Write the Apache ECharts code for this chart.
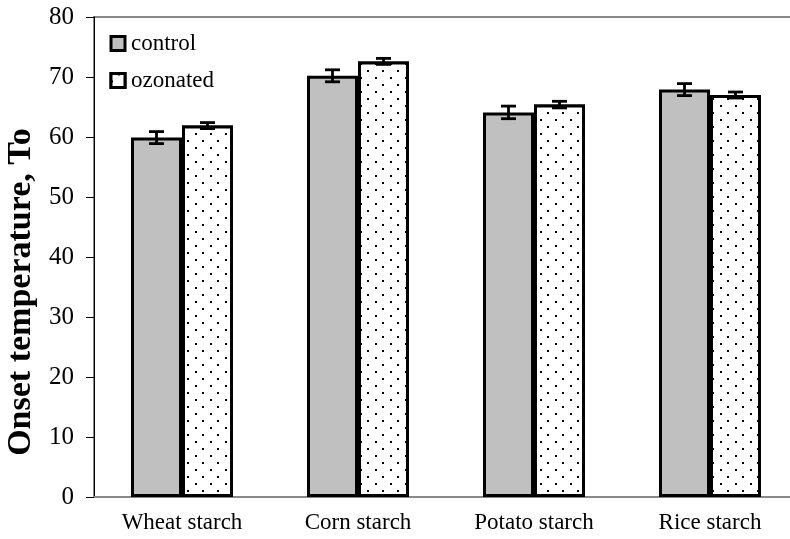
<!DOCTYPE html>
<html>
<head>
<meta charset="utf-8">
<script src="https://cdn.jsdelivr.net/npm/echarts@6/dist/echarts.min.js"></script>
<style>html,body{margin:0;padding:0;background:#fff;}#c{width:790px;height:539px;}</style>
</head>
<body>
<div id="c"></div>
<script>
const categories = ['Wheat starch', 'Corn starch', 'Potato starch', 'Rice starch'];
const seriesNames = ['control', 'ozonated'];
const controlValues = [59.9, 70.2, 64.1, 67.9];
const controlErrors = [1.0, 1.0, 1.05, 1.0];
const ozonatedValues = [61.9, 72.6, 65.4, 67.0];
const ozonatedErrors = [0.5, 0.5, 0.55, 0.5];
const yTicks = [0, 10, 20, 30, 40, 50, 60, 70, 80];
const yAxisTitle = 'Onset temperature, To';

const FONT = 'Liberation Serif';
const BAR_W = 51;

function errorData(values, errors) {
  return values.map((v, i) => [i, v - errors[i], v + errors[i]]);
}

function errorSeries(values, errors, side) {
  return {
    type: 'custom',
    z: 10,
    silent: true,
    data: errorData(values, errors),
    renderItem: function (params, api) {
      const idx = api.value(0);
      const lo = api.coord([idx, api.value(1)]);
      const hi = api.coord([idx, api.value(2)]);
      const x = lo[0] + side * BAR_W / 2;
      const cap = 7.5;
      const st = { stroke: '#000', lineWidth: 2.8 };
      return {
        type: 'group',
        children: [
          { type: 'line', shape: { x1: x, y1: lo[1], x2: x, y2: hi[1] }, style: st },
          { type: 'line', shape: { x1: x - cap, y1: lo[1], x2: x + cap, y2: lo[1] }, style: st },
          { type: 'line', shape: { x1: x - cap, y1: hi[1], x2: x + cap, y2: hi[1] }, style: st }
        ]
      };
    }
  };
}

const ozDecal = {
  symbol: 'rect', symbolSize: 1, color: '#000', backgroundColor: '#fff',
  dashArrayX: [[2, 13], [0, 7, 2, 6]], dashArrayY: [2, 5], rotation: 0
};

const chart = echarts.init(document.getElementById('c'), null, { renderer: 'canvas' });
chart.setOption({
  animation: false,
  backgroundColor: '#fff',
  textStyle: { fontFamily: FONT },
  grid: {
    left: 94, top: 17, right: -8, bottom: 42,
    containLabel: false,
    outerBoundsMode: 'none',
    show: true, borderColor: '#888', borderWidth: 2, backgroundColor: 'transparent'
  },
  legend: {
    orient: 'vertical',
    left: 109.5, top: 32,
    padding: 0,
    icon: 'rect',
    itemWidth: 14, itemHeight: 14,
    itemGap: 14,
    data: [
      { name: seriesNames[0] },
      { name: seriesNames[1], itemStyle: { decal: ozDecal } }
    ],
    textStyle: { fontFamily: FONT, fontSize: 23, color: '#000', padding: [0, 0, 0, 1] },
    itemStyle: { borderColor: '#000', borderWidth: 3 }
  },
  xAxis: {
    type: 'category',
    data: categories,
    axisLine: { lineStyle: { color: '#888', width: 2 } },
    axisTick: { show: false },
    axisLabel: { fontFamily: FONT, fontSize: 23, color: '#000', margin: 14 },
    splitLine: { show: false }
  },
  yAxis: {
    type: 'value',
    min: yTicks[0], max: yTicks[yTicks.length - 1], interval: 10,
    name: yAxisTitle,
    nameLocation: 'middle',
    nameGap: 54,
    nameRotate: 90,
    nameTextStyle: { fontFamily: FONT, fontSize: 34, fontWeight: 'bold', color: '#000', padding: [0, 70, 0, 0] },
    axisLine: { show: true, lineStyle: { color: '#000', width: 1 } },
    axisTick: { show: true, length: 8, lineStyle: { color: '#000', width: 1 } },
    axisLabel: { fontFamily: FONT, fontSize: 25, color: '#000', margin: 20 },
    splitLine: { show: false }
  },
  series: [
    {
      name: seriesNames[0], type: 'bar', data: controlValues,
      barWidth: BAR_W, barGap: '0%',
      itemStyle: { color: '#c0c0c0', borderColor: '#000', borderWidth: 3 }
    },
    {
      name: seriesNames[1], type: 'bar', data: ozonatedValues,
      barWidth: BAR_W, barGap: '0%',
      itemStyle: { color: '#fff', borderColor: '#000', borderWidth: 3, decal: ozDecal }
    },
    errorSeries(controlValues, controlErrors, -1),
    errorSeries(ozonatedValues, ozonatedErrors, 1)
  ]
});
</script>
</body>
</html>
